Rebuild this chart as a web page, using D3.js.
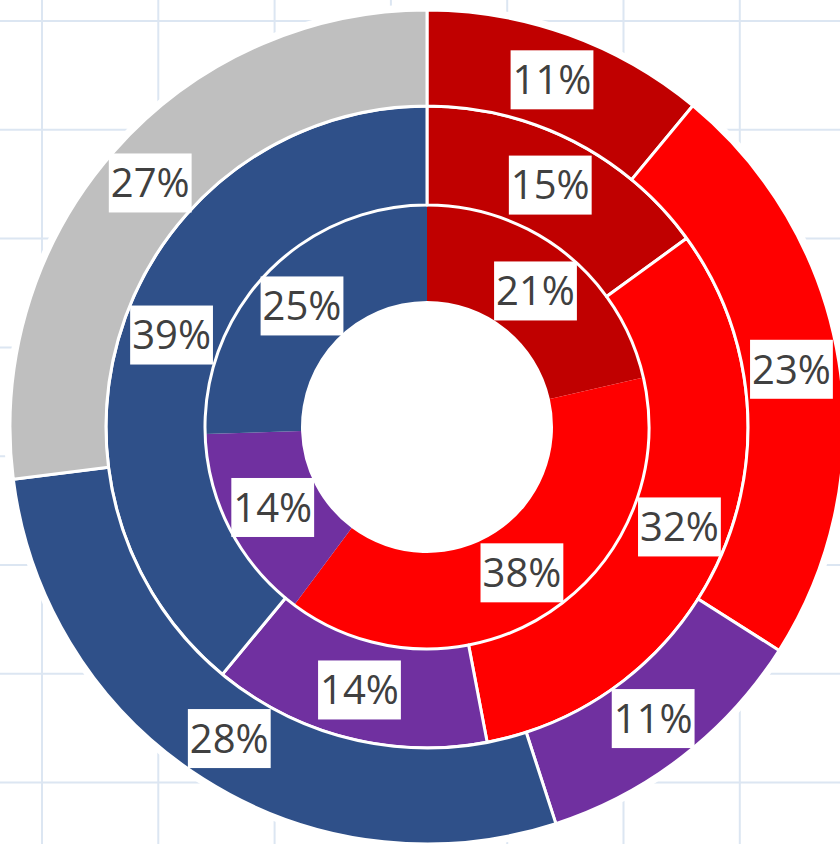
<!DOCTYPE html>
<html>
<head>
<meta charset="utf-8">
<script src="https://cdn.jsdelivr.net/npm/d3@7"></script>
<style>
  html, body { margin: 0; padding: 0; background: #fff; }
  svg { display: block; }
</style>
</head>
<body>
<svg id="chart"></svg>
<script>
// data: one array per ring, inner to outer, same category order
var categories = ["A", "B", "C", "D", "E"];
var colors = ["#C00000", "#FF0000", "#7030A0", "#2F5089", "#BFBFBF"];
var innerValues = [21, 38, 14, 25, 0];
var middleValues = [15, 32, 14, 39, 0];
var outerValues = [11, 23, 11, 28, 27];
var rings = [innerValues, middleValues, outerValues];

var width = 840, height = 844;
var cx = 427, cy = 427;
var radii = [126, 222, 321, 417];
var fontSize = 40;

var svg = d3.select("#chart")
    .attr("width", width)
    .attr("height", height);

// sheet grid behind the chart
var gx = d3.range(0, 8).map(function(i){ return 42 + i * 116.3; });
var gy = d3.range(0, 8).map(function(i){ return 21 + i * 108.8; });

svg.append("g")
    .selectAll("line.v")
    .data(gx)
    .enter().append("line")
    .attr("x1", function(d){ return d; })
    .attr("x2", function(d){ return d; })
    .attr("y1", 0)
    .attr("y2", height)
    .attr("stroke", "#DCE6F2")
    .attr("stroke-width", 2);

svg.append("g")
    .selectAll("line.h")
    .data(gy)
    .enter().append("line")
    .attr("x1", 0)
    .attr("x2", width)
    .attr("y1", function(d){ return d; })
    .attr("y2", function(d){ return d; })
    .attr("stroke", "#DCE6F2")
    .attr("stroke-width", 2);

var chart = svg.append("g")
    .attr("transform", "translate(" + [cx, cy] + ")");

// white area round the doughnut
chart.append("circle")
    .attr("r", radii[3] + 6)
    .attr("fill", "#fff");

var pie = d3.pie().sort(null).value(function(d){ return d; });

var color = d3.scaleOrdinal()
    .domain(categories)
    .range(colors);

var labels = [];

rings.forEach(function(values, r){
    var arc = d3.arc()
        .innerRadius(radii[r])
        .outerRadius(radii[r + 1]);

    var arcs = pie(values);

    chart.append("g")
        .selectAll("path")
        .data(arcs.filter(function(d){ return d.value > 0; }))
        .enter().append("path")
        .attr("d", arc)
        .attr("fill", function(d){ return color(categories[d.index]); })
        .attr("stroke", r == 0 ? "none" : "#fff")
        .attr("stroke-width", 3)
        .attr("stroke-linejoin", "round");

    arcs.forEach(function(d){
        if (d.value > 0) {
            labels.push({ pos: arc.centroid(d), text: d.value + "%" });
        }
    });
});

// labels in white boxes
var lg = chart.append("g");
labels.forEach(function(l){
    var g = lg.append("g")
        .attr("transform", "translate(" + l.pos + ")");
    var box = g.append("rect").attr("fill", "#fff");
    var t = g.append("text")
        .attr("text-anchor", "middle")
        .attr("y", fontSize * 0.357)
        .style("font-family", "'Open Sans', sans-serif")
        .style("font-size", fontSize + "px")
        .style("fill", "#404040")
        .text(l.text);
    var w = t.node().getComputedTextLength() + 4;
    var h = 59;
    box.attr("x", -w / 2)
        .attr("y", -h / 2)
        .attr("width", w)
        .attr("height", h);
});
</script>
</body>
</html>
